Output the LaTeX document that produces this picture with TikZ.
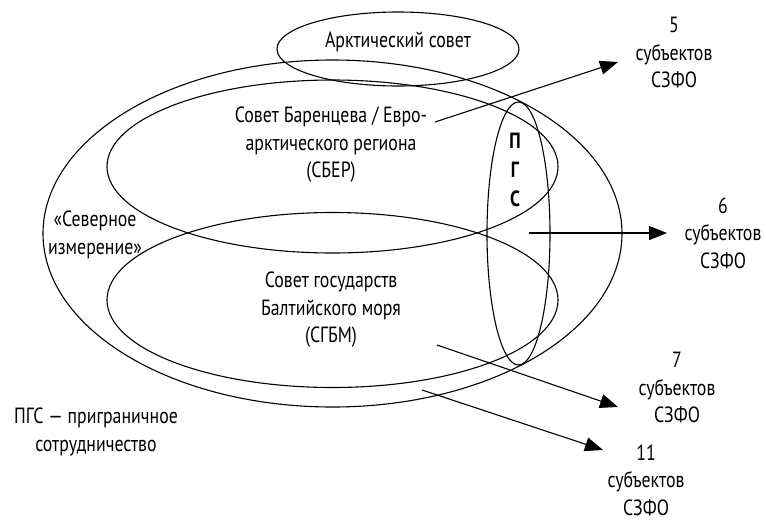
\documentclass[tikz,border=0pt]{standalone}
\usepackage{fontspec}
\setmainfont{PT Sans}[FakeStretch=0.81]
\usetikzlibrary{shapes.geometric,arrows.meta}
\begin{document}
\begin{tikzpicture}[x=1pt,y=-1pt,line width=1.1pt,
  ell/.style={draw, ellipse, inner sep=0pt},
  lbl/.style={font=\fontsize{22}{27.5}\selectfont, align=center, inner sep=0pt},
  arr/.style={-{Triangle[length=18pt,width=14pt]}}]
\useasboundingbox (0,0) rectangle (766,520);
% ellipses
\node[ell, minimum width=579pt, minimum height=347pt] (sev) at (332.5,233.5) {};
\node[ell, minimum width=242pt, minimum height=74pt] (arc) at (398,49) {};
\node[ell, minimum width=451pt, minimum height=173pt] (sber) at (332.5,166.5) {};
\node[ell, minimum width=451pt, minimum height=175pt] (sgbm) at (332.5,300) {};
\node[ell, minimum width=63pt, minimum height=263pt] (pgs) at (518.5,233.5) {};
% texts
\node[lbl] (arctxt) at (398,42) {Арктический совет};
\node[lbl] (sbertxt) at (331,145) {Совет Баренцева / Евро-\\арктического региона\\(СБЕР)};
\node[lbl] (sgbmtxt) at (331,310) {Совет государств\\Балтийского моря\\(СГБМ)};
\node[lbl] (sevtxt) at (95,235) {«Северное\\измерение»};
\node[lbl, font=\fontsize{22}{29}\selectfont\bfseries] (pgstxt) at (515,170) {П\\Г\\С};
\node[lbl] (legend) at (96,432) {ПГС — приграничное\\сотрудничество};
\node[lbl] (r5) at (674,53) {5\\субъектов\\СЗФО};
\node[lbl] (r6) at (723,233) {6\\субъектов\\СЗФО};
\node[lbl] (r7) at (677,388) {7\\субъектов\\СЗФО};
\node[lbl] (r11) at (646,480) {11\\субъектов\\СЗФО};
% arrows
\coordinate (a1s) at (435,122); \coordinate (a1e) at (618,62);
\coordinate (a2s) at (529,233); \coordinate (a2e) at (667,233);
\coordinate (a3s) at (437,345); \coordinate (a3e) at (618,407);
\coordinate (a4s) at (422,390); \coordinate (a4e) at (603,450);
\draw[arr] (a1s) -- (a1e);
\draw[arr] (a2s) -- (a2e);
\draw[arr] (a3s) -- (a3e);
\draw[arr] (a4s) -- (a4e);
\end{tikzpicture}
\end{document}
